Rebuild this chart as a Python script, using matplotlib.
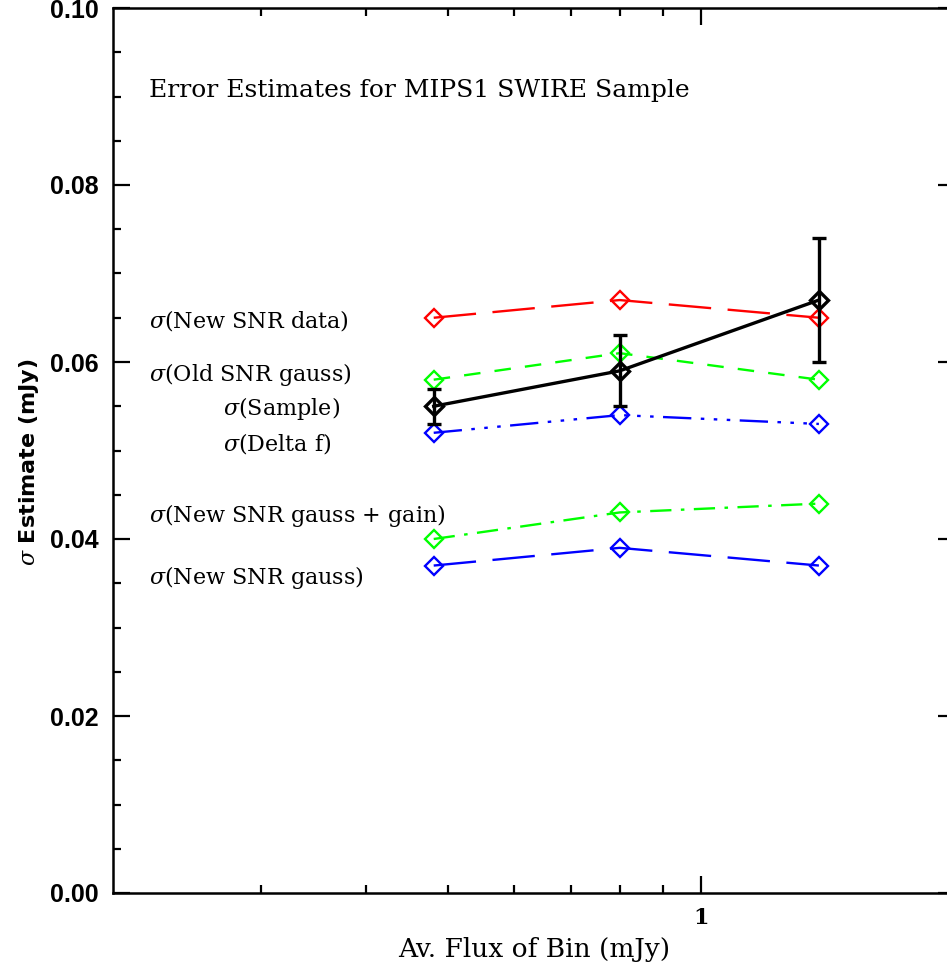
import numpy as np
import matplotlib.pyplot as plt
from matplotlib.ticker import FixedLocator, NullFormatter, FixedFormatter

# bin fluxes (mJy)
flux = [0.481, 0.80, 1.38]

new_snr_data = [0.065, 0.067, 0.065]
old_snr_gauss = [0.058, 0.061, 0.058]
sample = [0.055, 0.059, 0.067]
sample_lo = [0.053, 0.055, 0.060]
sample_hi = [0.057, 0.063, 0.074]
delta_f = [0.052, 0.054, 0.053]
new_gauss_gain = [0.040, 0.043, 0.044]
new_gauss = [0.037, 0.039, 0.037]

labels = ["$\\sigma$(New SNR data)", "$\\sigma$(Old SNR gauss)", "$\\sigma$(Sample)",
          "$\\sigma$(Delta f)", "$\\sigma$(New SNR gauss + gain)", "$\\sigma$(New SNR gauss)"]
label_x = [0.221, 0.221, 0.270, 0.270, 0.221, 0.221]
label_y = [0.0647, 0.0586, 0.0547, 0.0508, 0.0427, 0.0357]

plt.rcParams['mathtext.fontset'] = 'dejavuserif'

fig = plt.figure(figsize=(9.47, 9.68), dpi=100)
ax = fig.add_axes([113/947, 75/968, 841.5/947, 885/968])
ax.set_xscale('log')
ax.set_xlim(0.2, 2.0)
ax.set_ylim(0.0, 0.1)

mk = dict(marker='D', markersize=9, markerfacecolor='none', markeredgewidth=1.7)
ax.plot(flux, new_snr_data, color='#ff0000', lw=1.7, dashes=(18, 7), **mk)
ax.plot(flux, old_snr_gauss, color='#00ff00', lw=1.7, dashes=(7, 6), **mk)
ax.plot(flux, delta_f, color='#0000ff', lw=1.7, dashes=(12, 4, 1.5, 4, 1.5, 4, 1.5, 4), **mk)
ax.plot(flux, new_gauss_gain, color='#00ff00', lw=1.7, dashes=(9, 4, 1.5, 4), **mk)
ax.plot(flux, new_gauss, color='#0000ff', lw=1.7, dashes=(18, 7), **mk)

err = [np.array(sample) - np.array(sample_lo), np.array(sample_hi) - np.array(sample)]
ax.errorbar(flux, sample, yerr=err, color='black', lw=2.4, elinewidth=2.4,
            capsize=5, capthick=2.4, marker='D', markersize=9.5,
            markerfacecolor='none', markeredgewidth=2.4)

for t, x, y in zip(labels, label_x, label_y):
    ax.text(x, y, t, fontsize=16, family='DejaVu Serif', va='center', ha='left')

ax.text(0.221, 0.0907, "Error Estimates for MIPS1 SWIRE Sample", fontsize=18,
        family='DejaVu Serif', va='center', ha='left')

ax.yaxis.set_major_locator(FixedLocator([0.0, 0.02, 0.04, 0.06, 0.08, 0.1]))
ax.yaxis.set_minor_locator(FixedLocator(np.arange(0, 0.1001, 0.005)))
ax.yaxis.set_major_formatter(FixedFormatter(["0.00", "0.02", "0.04", "0.06", "0.08", "0.10"]))
ax.xaxis.set_major_locator(FixedLocator([1.0]))
ax.xaxis.set_major_formatter(FixedFormatter(["1"]))
ax.xaxis.set_minor_locator(FixedLocator([0.3, 0.4, 0.5, 0.6, 0.7, 0.8, 0.9]))
ax.xaxis.set_minor_formatter(NullFormatter())

ax.tick_params(which='both', direction='in', top=True, right=True, width=1.6)
ax.tick_params(which='major', length=12, pad=10)
ax.tick_params(which='minor', length=6)
for lab in ax.get_yticklabels():
    lab.set_family('Liberation Sans')
    lab.set_fontsize(18)
    lab.set_fontweight('bold')
for lab in ax.get_xticklabels():
    lab.set_family('DejaVu Serif')
    lab.set_fontsize(16)
    lab.set_fontweight('bold')
for s in ax.spines.values():
    s.set_linewidth(1.8)

ax.set_xlabel("Av. Flux of Bin (mJy)", fontsize=19, family='DejaVu Serif', labelpad=6)
ax.set_ylabel("$\\sigma$ Estimate (mJy)", fontsize=16, family='DejaVu Sans',
              fontweight='bold')
ax.yaxis.set_label_coords(-0.085, 0.487)

fig.savefig('out.png', dpi=100)
